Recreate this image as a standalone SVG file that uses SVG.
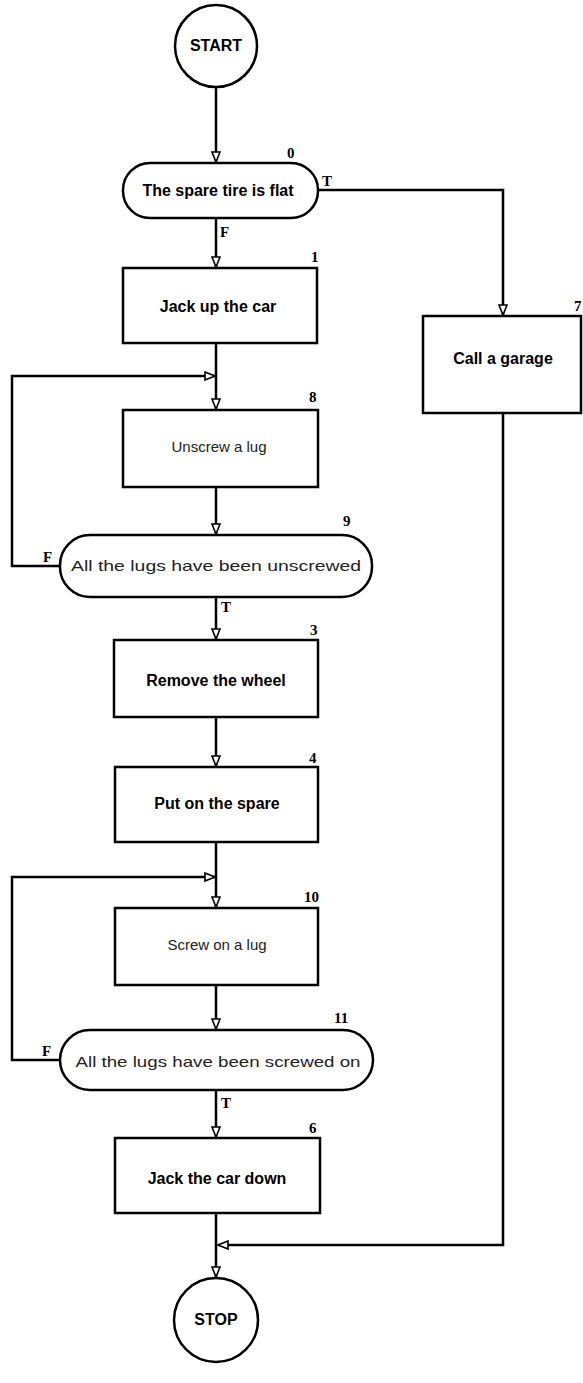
<svg xmlns="http://www.w3.org/2000/svg" width="583" height="1383" viewBox="0 0 583 1383">
<defs>
<marker id="ah" viewBox="0 0 12 10" refX="11" refY="5" markerWidth="12" markerHeight="10" markerUnits="userSpaceOnUse" orient="auto">
<path d="M1,1 L11,5 L1,9 z" fill="#fff" stroke="#000" stroke-width="1.6"/>
</marker>
</defs>
<style>
.shape{fill:#fff;stroke:#000;stroke-width:2.5}
.t{font-family:"Liberation Sans",Arial,sans-serif;font-size:16px;font-weight:bold;text-anchor:middle;fill:#000}
.tl{font-family:"Liberation Sans",Arial,sans-serif;font-size:15px;font-weight:normal;text-anchor:middle;fill:#222}
.n{font-family:"Liberation Serif",serif;font-size:15px;font-weight:bold;fill:#000}
.c{fill:none;stroke:#000;stroke-width:2.5}
</style>
<rect width="583" height="1383" fill="#fff"/>
<g id="connectors">
<path class="c" d="M216,88 V162" marker-end="url(#ah)"/>
<path class="c" d="M318,190 H503 V315" marker-end="url(#ah)"/>
<path class="c" d="M216,218 V267" marker-end="url(#ah)"/>
<path class="c" d="M216,343 V409" marker-end="url(#ah)"/>
<path class="c" d="M60,566 H12 V376 H215" marker-end="url(#ah)"/>
<path class="c" d="M216,487 V534" marker-end="url(#ah)"/>
<path class="c" d="M216,597 V639" marker-end="url(#ah)"/>
<path class="c" d="M216,717 V766" marker-end="url(#ah)"/>
<path class="c" d="M216,842 V907" marker-end="url(#ah)"/>
<path class="c" d="M60,1060 H12 V877 H215" marker-end="url(#ah)"/>
<path class="c" d="M216,985 V1029" marker-end="url(#ah)"/>
<path class="c" d="M216,1090 V1137" marker-end="url(#ah)"/>
<path class="c" d="M216,1213 V1277" marker-end="url(#ah)"/>
<path class="c" d="M503,413 V1245 H218" marker-end="url(#ah)"/>
<text class="n" x="322" y="186">T</text>
<text class="n" x="220" y="237">F</text>
<text class="n" x="43" y="562">F</text>
<text class="n" x="221" y="612">T</text>
<text class="n" x="42" y="1056">F</text>
<text class="n" x="221" y="1108">T</text>
</g>
<g id="start">
<circle class="shape" cx="216" cy="46" r="41"/>
<text class="t" x="216" y="51" font-size="14">START</text>
</g>
<g id="n0">
<rect class="shape" x="123" y="163" width="195" height="55" rx="27"/>
<text class="t" x="218" y="196">The spare tire is flat</text>
<text class="n" x="287" y="158">0</text>
</g>
<g id="n1">
<rect class="shape" x="123" y="268" width="194" height="75"/>
<text class="t" x="218" y="312">Jack up the car</text>
<text class="n" x="311" y="262">1</text>
</g>
<g id="n7">
<rect class="shape" x="423" y="316" width="158" height="97"/>
<text class="t" x="503" y="364">Call a garage</text>
<text class="n" x="574" y="311">7</text>
</g>
<g id="n8">
<rect class="shape" x="123" y="410" width="195" height="77"/>
<text class="tl" x="219" y="452">Unscrew a lug</text>
<text class="n" x="309" y="402">8</text>
</g>
<g id="n9">
<rect class="shape" x="60" y="535" width="312" height="62" rx="30"/>
<text class="tl" x="216" y="571" textLength="290" lengthAdjust="spacingAndGlyphs">All the lugs have been unscrewed</text>
<text class="n" x="343" y="526">9</text>
</g>
<g id="n3">
<rect class="shape" x="114" y="640" width="204" height="77"/>
<text class="t" x="216" y="686">Remove the wheel</text>
<text class="n" x="310" y="635">3</text>
</g>
<g id="n4">
<rect class="shape" x="115" y="767" width="203" height="75"/>
<text class="t" x="217" y="809">Put on the spare</text>
<text class="n" x="309" y="763">4</text>
</g>
<g id="n10">
<rect class="shape" x="115" y="908" width="203" height="77"/>
<text class="tl" x="217" y="950">Screw on a lug</text>
<text class="n" x="304" y="902">10</text>
</g>
<g id="n11">
<rect class="shape" x="60" y="1030" width="313" height="60" rx="30"/>
<text class="tl" x="218" y="1067" textLength="285" lengthAdjust="spacingAndGlyphs">All the lugs have been screwed on</text>
<text class="n" x="334" y="1023">11</text>
</g>
<g id="n6">
<rect class="shape" x="115" y="1138" width="205" height="75"/>
<text class="t" x="217" y="1184">Jack the car down</text>
<text class="n" x="309" y="1133">6</text>
</g>
<g id="stop">
<circle class="shape" cx="216" cy="1320" r="42"/>
<text class="t" x="216" y="1325" font-size="14">STOP</text>
</g>
</svg>
